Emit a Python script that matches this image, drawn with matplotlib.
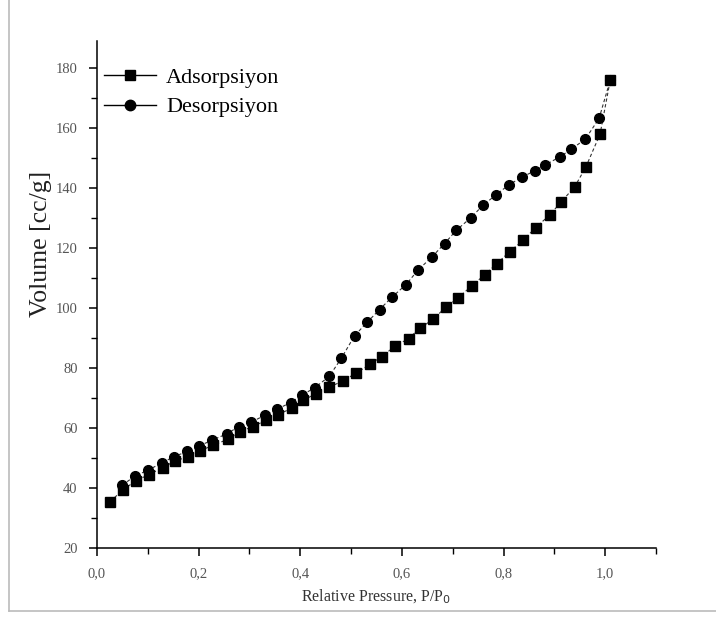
import numpy as np
import matplotlib
matplotlib.use("Agg")
import matplotlib.pyplot as plt
from matplotlib.lines import Line2D
from matplotlib.ticker import MultipleLocator, FuncFormatter

# =========================
# DONNÉES
# =========================
ads_p = [0.026, 0.052, 0.077, 0.103, 0.129, 0.154, 0.180, 0.203, 0.229, 0.257,
         0.281, 0.306, 0.333, 0.357, 0.383, 0.406, 0.431, 0.457, 0.485, 0.509,
         0.537, 0.560, 0.586, 0.613, 0.635, 0.661, 0.686, 0.710, 0.737, 0.763,
         0.787, 0.812, 0.839, 0.863, 0.891, 0.913, 0.940, 0.962, 0.990, 1.010]
ads_v = [35.5, 39.5, 42.5, 44.5, 46.8, 49.0, 50.5, 52.4, 54.3, 56.2,
         58.8, 60.4, 62.6, 64.5, 66.6, 69.2, 71.5, 73.6, 75.8, 78.2,
         81.2, 83.8, 87.2, 89.8, 93.2, 96.2, 100.2, 103.3, 107.3, 111.1,
         114.8, 118.8, 122.6, 126.8, 131.0, 135.3, 140.4, 147.0, 158.0, 176.0]

des_p = [0.050, 0.075, 0.101, 0.127, 0.152, 0.178, 0.201, 0.227, 0.255, 0.279,
         0.304, 0.331, 0.355, 0.381, 0.404, 0.429, 0.457, 0.481, 0.507, 0.532,
         0.556, 0.581, 0.608, 0.632, 0.659, 0.684, 0.707, 0.735, 0.760, 0.785,
         0.810, 0.836, 0.861, 0.882, 0.911, 0.933, 0.961, 0.988, 1.010]
des_v = [41.0, 44.0, 46.0, 48.3, 50.5, 52.2, 54.0, 56.0, 58.0, 60.5,
         62.0, 64.3, 66.3, 68.5, 71.0, 73.5, 77.2, 83.3, 90.8, 95.3,
         99.5, 103.7, 107.8, 112.7, 117.0, 121.5, 125.9, 130.0, 134.3, 137.7,
         141.0, 143.6, 145.7, 147.7, 150.4, 152.9, 156.3, 163.2, 176.0]

LABELS = ["Adsorpsiyon", "Desorpsiyon"]

# =========================
# FIGURE
# =========================
plt.rcParams["font.family"] = ["Liberation Serif", "DejaVu Serif"]

fig = plt.figure(figsize=(7.16, 6.21), dpi=100)
ax = fig.add_axes([97 / 716, 1 - 548 / 621, 559 / 716, 507 / 621])

line_kw = dict(color="#333333", linewidth=0.8, linestyle=(0, (3, 2.2)))
ax.plot(ads_p, ads_v, marker="s", markersize=6.5, markerfacecolor="black",
        markeredgecolor="black", **line_kw)
ax.plot(des_p, des_v, marker="o", markersize=7, markerfacecolor="black",
        markeredgecolor="black", **line_kw)

ax.set_xlim(0, 1.1)
ax.set_ylim(20, 189)

ax.spines["top"].set_visible(False)
ax.spines["right"].set_visible(False)
ax.spines["left"].set_linewidth(1.1)
ax.spines["bottom"].set_linewidth(1.1)

ax.xaxis.set_major_locator(MultipleLocator(0.2))
ax.xaxis.set_minor_locator(MultipleLocator(0.1))
ax.yaxis.set_major_locator(MultipleLocator(20))
ax.yaxis.set_minor_locator(MultipleLocator(10))
ax.xaxis.set_major_formatter(FuncFormatter(lambda v, _: f"{v:.1f}".replace(".", ",")))
ax.yaxis.set_major_formatter(FuncFormatter(lambda v, _: f"{v:.0f}"))

ax.tick_params(which="major", direction="out", length=6, width=1.1,
               labelsize=10.5, labelcolor="#555555", pad=8)
ax.tick_params(which="minor", direction="out", length=4, width=1.0)

ax.set_xlabel("Relative Pressure, P/P$_0$", fontsize=11.5, color="#333333", labelpad=5)
ax.set_ylabel("Volume [cc/g]", fontsize=18.5, color="#222222")
ax.yaxis.set_label_coords(-0.08, 0.60)

handles = [
    Line2D([], [], color="black", linewidth=1, marker="s", markersize=7),
    Line2D([], [], color="black", linewidth=1, marker="o", markersize=7.5),
]
ax.legend(handles, LABELS, loc="upper left", bbox_to_anchor=(0.0125, 0.948),
          frameon=False, fontsize=16, handlelength=2.35, handletextpad=0.45,
          labelspacing=0.4, borderaxespad=0, borderpad=0)

# traits gris du cadre (gauche et bas)
fig.add_artist(Line2D([9 / 716, 9 / 716], [10 / 621, 1], transform=fig.transFigure,
                      color="#bbbbbb", linewidth=1.2))
fig.add_artist(Line2D([9 / 716, 1], [10 / 621, 10 / 621], transform=fig.transFigure,
                      color="#bbbbbb", linewidth=1.2))

plt.savefig("out.png", dpi=100)
